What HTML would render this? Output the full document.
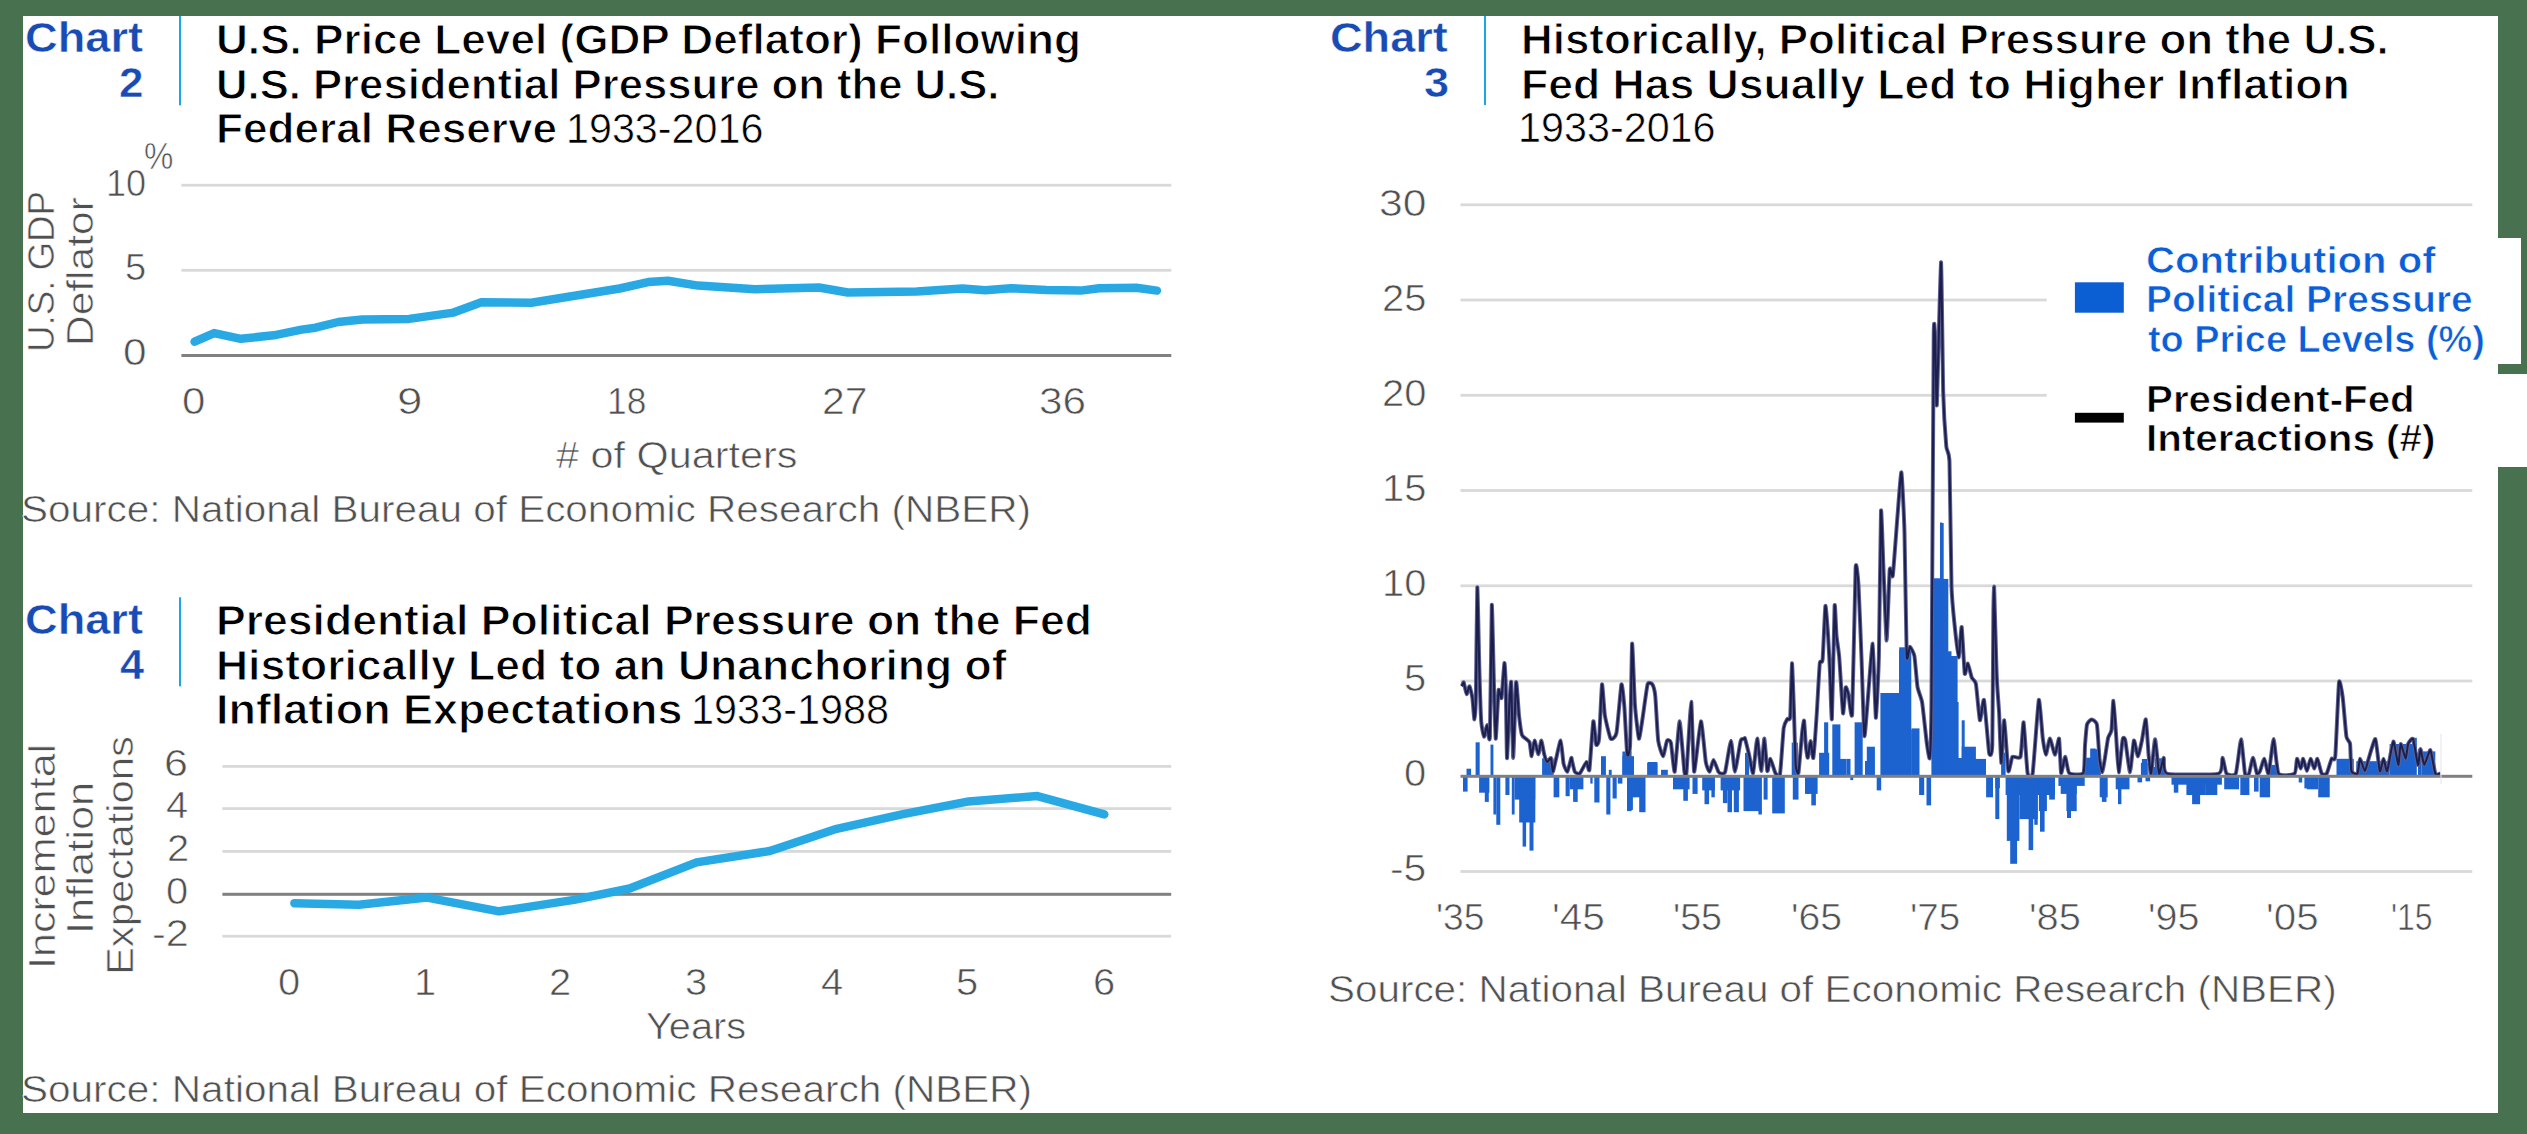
<!DOCTYPE html>
<html><head><meta charset="utf-8"><title>Charts</title>
<style>
html,body{margin:0;padding:0;}
body{width:2527px;height:1134px;position:relative;overflow:hidden;background:#48724f;font-family:"Liberation Sans",sans-serif;}
.panel{position:absolute;background:#fff;}
.t{position:absolute;white-space:pre;transform-origin:0 0;font-family:"Liberation Sans",sans-serif;}
svg{position:absolute;left:0;top:0;}
</style></head><body>
<div class="panel" style="left:23px;top:16px;width:2475px;height:1097px"></div>
<div class="panel" style="left:2040px;top:238px;width:480.5px;height:126px"></div>
<div class="panel" style="left:2040px;top:374px;width:487px;height:93px"></div>
<svg width="2527" height="1134" viewBox="0 0 2527 1134">
<rect x="179" y="16" width="2" height="89.3" fill="#1ba4ec"/>
<rect x="179" y="597.3" width="2" height="89.0" fill="#1ba4ec"/>
<rect x="1484" y="16" width="2" height="89" fill="#1ba4ec"/>
<rect x="181.4" y="183.79999999999998" width="989.9" height="2.8" fill="#d9d9d9"/>
<rect x="181.4" y="268.90000000000003" width="989.9" height="2.8" fill="#d9d9d9"/>
<rect x="181.4" y="354.0" width="989.9" height="3" fill="#808080"/>
<polyline points="194.6,341.7 214.2,333.1 240.8,338.8 273.7,335.3 301.6,329.6 315.5,327.7 338.3,322.0 362.3,319.5 409.2,318.9 453.5,312.6 481.4,302.2 531.3,302.7 619.6,288.5 648.1,282.1 668.0,280.7 698.0,285.6 755.0,289.2 819.0,287.5 847.8,292.5 916.9,291.6 962.5,288.5 985.3,290.3 1010.9,288.2 1046.5,289.9 1080.7,290.6 1099.2,288.2 1136.3,287.8 1156.9,290.6" fill="none" stroke="#29a9e3" stroke-width="8.5" stroke-linejoin="round" stroke-linecap="round"/>
<rect x="222.4" y="765.0" width="948.8000000000001" height="2.8" fill="#d9d9d9"/>
<rect x="222.4" y="807.2" width="948.8000000000001" height="2.8" fill="#d9d9d9"/>
<rect x="222.4" y="850.0" width="948.8000000000001" height="2.8" fill="#d9d9d9"/>
<rect x="222.4" y="934.8000000000001" width="948.8000000000001" height="2.8" fill="#d9d9d9"/>
<rect x="222.4" y="892.8" width="948.8000000000001" height="3" fill="#808080"/>
<polyline points="294.4,903.2 358.7,904.8 427.2,897.6 499.0,911.3 574.1,899.9 629.6,888.5 696.5,862.4 769.8,851.0 836.7,828.8 901.9,814.4 968.8,801.4 1037.4,796.1 1104.3,814.4" fill="none" stroke="#29a9e3" stroke-width="8.5" stroke-linejoin="round" stroke-linecap="round"/>
<rect x="1460.5" y="203.4" width="1011.8000000000002" height="2.8" fill="#d9d9d9"/>
<rect x="1460.5" y="489.1" width="1011.8000000000002" height="2.8" fill="#d9d9d9"/>
<rect x="1460.5" y="584.4" width="1011.8000000000002" height="2.8" fill="#d9d9d9"/>
<rect x="1460.5" y="679.6" width="1011.8000000000002" height="2.8" fill="#d9d9d9"/>
<rect x="1460.5" y="870.1" width="1011.8000000000002" height="2.8" fill="#d9d9d9"/>
<rect x="1460.5" y="298.6" width="586.2" height="2.8" fill="#d9d9d9"/>
<rect x="1460.5" y="393.9" width="586.2" height="2.8" fill="#d9d9d9"/>
<rect x="1463.0" y="776.3" width="4.6" height="15.3" fill="#1c63d0"/>
<rect x="1479.1" y="776.3" width="10.3" height="16.4" fill="#1c63d0"/>
<rect x="1484.8" y="776.3" width="4.0" height="25.6" fill="#1c63d0"/>
<rect x="1493.4" y="776.3" width="2.9" height="38.2" fill="#1c63d0"/>
<rect x="1496.3" y="776.3" width="4.0" height="48.5" fill="#1c63d0"/>
<rect x="1505.4" y="776.3" width="4.1" height="18.7" fill="#1c63d0"/>
<rect x="1511.8" y="776.3" width="2.8" height="38.2" fill="#1c63d0"/>
<rect x="1514.6" y="776.3" width="20.7" height="23.3" fill="#1c63d0"/>
<rect x="1519.2" y="776.3" width="16.1" height="46.2" fill="#1c63d0"/>
<rect x="1522.6" y="776.3" width="3.5" height="70.3" fill="#1c63d0"/>
<rect x="1529.5" y="776.3" width="4.0" height="74.3" fill="#1c63d0"/>
<rect x="1553.6" y="776.3" width="5.7" height="21.0" fill="#1c63d0"/>
<rect x="1565.6" y="776.3" width="4.1" height="19.9" fill="#1c63d0"/>
<rect x="1569.7" y="776.3" width="13.7" height="13.0" fill="#1c63d0"/>
<rect x="1573.1" y="776.3" width="4.6" height="25.6" fill="#1c63d0"/>
<rect x="1590.3" y="776.3" width="2.3" height="7.3" fill="#1c63d0"/>
<rect x="1594.3" y="776.3" width="5.2" height="26.2" fill="#1c63d0"/>
<rect x="1606.3" y="776.3" width="4.1" height="38.2" fill="#1c63d0"/>
<rect x="1612.6" y="776.3" width="4.1" height="22.2" fill="#1c63d0"/>
<rect x="1617.8" y="776.3" width="4.6" height="7.3" fill="#1c63d0"/>
<rect x="1627.0" y="776.3" width="4.6" height="34.8" fill="#1c63d0"/>
<rect x="1631.6" y="776.3" width="3.4" height="21.0" fill="#1c63d0"/>
<rect x="1475.6" y="742.3" width="4.1" height="34.0" fill="#1c63d0"/>
<rect x="1490.5" y="744.6" width="2.9" height="31.7" fill="#1c63d0"/>
<rect x="1466.5" y="768.7" width="4.6" height="7.6" fill="#1c63d0"/>
<rect x="1542.1" y="758.3" width="11.5" height="18.0" fill="#1c63d0"/>
<rect x="1601.8" y="757.2" width="3.4" height="19.1" fill="#1c63d0"/>
<rect x="1622.4" y="751.5" width="9.2" height="24.8" fill="#1c63d0"/>
<rect x="1601.0" y="756.2" width="4.9" height="20.1" fill="#1c63d0"/>
<rect x="1622.4" y="756.2" width="11.6" height="20.1" fill="#1c63d0"/>
<rect x="1647.6" y="762.0" width="9.7" height="14.3" fill="#1c63d0"/>
<rect x="1608.8" y="769.8" width="2.9" height="6.5" fill="#1c63d0"/>
<rect x="1630.0" y="776.3" width="2.9" height="33.6" fill="#1c63d0"/>
<rect x="1634.0" y="776.3" width="10.9" height="21.0" fill="#1c63d0"/>
<rect x="1639.2" y="776.3" width="6.3" height="35.9" fill="#1c63d0"/>
<rect x="1673.0" y="776.3" width="16.6" height="13.0" fill="#1c63d0"/>
<rect x="1683.3" y="776.3" width="4.6" height="24.5" fill="#1c63d0"/>
<rect x="1692.5" y="776.3" width="5.1" height="17.6" fill="#1c63d0"/>
<rect x="1702.2" y="776.3" width="12.6" height="14.1" fill="#1c63d0"/>
<rect x="1704.5" y="776.3" width="4.6" height="27.9" fill="#1c63d0"/>
<rect x="1711.4" y="776.3" width="3.4" height="21.0" fill="#1c63d0"/>
<rect x="1720.6" y="776.3" width="19.5" height="14.1" fill="#1c63d0"/>
<rect x="1722.9" y="776.3" width="4.6" height="26.8" fill="#1c63d0"/>
<rect x="1727.5" y="776.3" width="4.5" height="35.9" fill="#1c63d0"/>
<rect x="1733.8" y="776.3" width="5.1" height="35.9" fill="#1c63d0"/>
<rect x="1743.5" y="776.3" width="16.1" height="34.8" fill="#1c63d0"/>
<rect x="1758.4" y="776.3" width="3.5" height="38.2" fill="#1c63d0"/>
<rect x="1763.6" y="776.3" width="4.0" height="23.3" fill="#1c63d0"/>
<rect x="1772.2" y="776.3" width="12.6" height="37.1" fill="#1c63d0"/>
<rect x="1792.8" y="776.3" width="5.7" height="23.3" fill="#1c63d0"/>
<rect x="1806.6" y="776.3" width="3.4" height="17.6" fill="#1c63d0"/>
<rect x="1647.2" y="762.9" width="10.3" height="13.4" fill="#1c63d0"/>
<rect x="1661.0" y="769.8" width="6.8" height="6.5" fill="#1c63d0"/>
<rect x="1792.8" y="743.4" width="4.6" height="32.9" fill="#1c63d0"/>
<rect x="1745.0" y="752.8" width="4.1" height="23.5" fill="#1c63d0"/>
<rect x="1791.7" y="742.6" width="6.1" height="33.7" fill="#1c63d0"/>
<rect x="1819.1" y="752.8" width="10.1" height="23.5" fill="#1c63d0"/>
<rect x="1824.1" y="722.3" width="4.1" height="54.0" fill="#1c63d0"/>
<rect x="1832.3" y="724.4" width="8.1" height="51.9" fill="#1c63d0"/>
<rect x="1837.3" y="758.9" width="9.2" height="17.4" fill="#1c63d0"/>
<rect x="1846.5" y="758.9" width="4.0" height="17.4" fill="#1c63d0"/>
<rect x="1854.6" y="722.3" width="8.1" height="54.0" fill="#1c63d0"/>
<rect x="1866.8" y="746.7" width="8.1" height="29.6" fill="#1c63d0"/>
<rect x="1881.0" y="702.0" width="6.0" height="74.3" fill="#1c63d0"/>
<rect x="1887.0" y="693.9" width="12.2" height="82.4" fill="#1c63d0"/>
<rect x="1899.2" y="647.3" width="8.1" height="129.0" fill="#1c63d0"/>
<rect x="1911.4" y="728.4" width="8.1" height="47.9" fill="#1c63d0"/>
<rect x="1805.0" y="776.3" width="12.6" height="17.6" fill="#1c63d0"/>
<rect x="1811.3" y="776.3" width="4.6" height="29.1" fill="#1c63d0"/>
<rect x="1850.3" y="776.3" width="2.9" height="3.8" fill="#1c63d0"/>
<rect x="1876.7" y="776.3" width="4.5" height="14.1" fill="#1c63d0"/>
<rect x="1919.1" y="776.3" width="5.1" height="18.7" fill="#1c63d0"/>
<rect x="1926.5" y="776.3" width="4.6" height="29.1" fill="#1c63d0"/>
<rect x="1986.1" y="776.3" width="6.9" height="21.0" fill="#1c63d0"/>
<rect x="1995.3" y="776.3" width="4.6" height="11.9" fill="#1c63d0"/>
<rect x="1995.3" y="776.3" width="4.0" height="42.8" fill="#1c63d0"/>
<rect x="2005.6" y="776.3" width="49.3" height="18.7" fill="#1c63d0"/>
<rect x="2006.8" y="776.3" width="12.6" height="64.6" fill="#1c63d0"/>
<rect x="2010.2" y="776.3" width="6.9" height="87.5" fill="#1c63d0"/>
<rect x="2019.4" y="776.3" width="18.3" height="42.8" fill="#1c63d0"/>
<rect x="2028.6" y="776.3" width="4.6" height="73.8" fill="#1c63d0"/>
<rect x="2034.3" y="776.3" width="3.4" height="48.5" fill="#1c63d0"/>
<rect x="2038.9" y="776.3" width="8.0" height="34.8" fill="#1c63d0"/>
<rect x="2040.0" y="776.3" width="4.6" height="55.4" fill="#1c63d0"/>
<rect x="2049.2" y="776.3" width="5.7" height="23.3" fill="#1c63d0"/>
<rect x="2058.4" y="776.3" width="26.3" height="9.6" fill="#1c63d0"/>
<rect x="2060.7" y="776.3" width="16.0" height="17.6" fill="#1c63d0"/>
<rect x="2066.4" y="776.3" width="10.3" height="34.8" fill="#1c63d0"/>
<rect x="2067.0" y="776.3" width="4.0" height="41.7" fill="#1c63d0"/>
<rect x="2099.7" y="776.3" width="8.0" height="21.0" fill="#1c63d0"/>
<rect x="2101.9" y="776.3" width="4.6" height="25.6" fill="#1c63d0"/>
<rect x="2115.7" y="776.3" width="13.8" height="13.0" fill="#1c63d0"/>
<rect x="2118.0" y="776.3" width="3.4" height="27.9" fill="#1c63d0"/>
<rect x="2137.5" y="776.3" width="4.6" height="6.1" fill="#1c63d0"/>
<rect x="2145.5" y="776.3" width="4.6" height="5.0" fill="#1c63d0"/>
<rect x="2001.1" y="752.6" width="4.5" height="23.7" fill="#1c63d0"/>
<rect x="2083.6" y="760.6" width="11.5" height="15.7" fill="#1c63d0"/>
<rect x="2090.5" y="749.2" width="9.2" height="27.1" fill="#1c63d0"/>
<rect x="2140.9" y="762.9" width="6.9" height="13.4" fill="#1c63d0"/>
<rect x="2154.7" y="758.3" width="10.3" height="18.0" fill="#1c63d0"/>
<rect x="2085.0" y="757.7" width="15.9" height="18.6" fill="#1c63d0"/>
<rect x="2090.3" y="748.5" width="5.3" height="27.8" fill="#1c63d0"/>
<rect x="2141.9" y="759.0" width="5.3" height="17.3" fill="#1c63d0"/>
<rect x="2148.5" y="767.0" width="10.6" height="9.3" fill="#1c63d0"/>
<rect x="2171.5" y="776.3" width="50.4" height="8.4" fill="#1c63d0"/>
<rect x="2173.8" y="776.3" width="4.5" height="16.4" fill="#1c63d0"/>
<rect x="2186.4" y="776.3" width="19.5" height="18.7" fill="#1c63d0"/>
<rect x="2192.1" y="776.3" width="8.0" height="27.9" fill="#1c63d0"/>
<rect x="2205.9" y="776.3" width="11.4" height="18.7" fill="#1c63d0"/>
<rect x="2224.2" y="776.3" width="14.9" height="13.0" fill="#1c63d0"/>
<rect x="2240.3" y="776.3" width="9.1" height="18.7" fill="#1c63d0"/>
<rect x="2254.0" y="776.3" width="4.6" height="15.3" fill="#1c63d0"/>
<rect x="2259.7" y="776.3" width="10.4" height="21.0" fill="#1c63d0"/>
<rect x="2298.7" y="776.3" width="3.5" height="6.1" fill="#1c63d0"/>
<rect x="2306.8" y="776.3" width="11.4" height="13.0" fill="#1c63d0"/>
<rect x="2318.2" y="776.3" width="11.5" height="21.0" fill="#1c63d0"/>
<rect x="2336.5" y="758.8" width="17.3" height="17.5" fill="#1c63d0"/>
<rect x="2356.3" y="761.2" width="33.3" height="15.1" fill="#1c63d0"/>
<rect x="2389.6" y="744.0" width="26.0" height="32.3" fill="#1c63d0"/>
<rect x="2411.9" y="737.8" width="4.9" height="38.5" fill="#1c63d0"/>
<rect x="2418.0" y="748.9" width="3.7" height="27.4" fill="#1c63d0"/>
<rect x="2421.7" y="751.4" width="13.6" height="24.9" fill="#1c63d0"/>
<rect x="2269.9" y="764.9" width="8.6" height="11.4" fill="#1c63d0"/>
<rect x="2260.0" y="776.3" width="9.9" height="19.5" fill="#1c63d0"/>
<rect x="2299.5" y="776.3" width="2.5" height="5.9" fill="#1c63d0"/>
<rect x="2304.4" y="776.3" width="12.4" height="12.1" fill="#1c63d0"/>
<rect x="2319.3" y="776.3" width="9.8" height="19.5" fill="#1c63d0"/>
<rect x="1932.2" y="578.3" width="8.2" height="198.0" fill="#1c63d0"/>
<rect x="1940.4" y="600.6" width="4.0" height="175.7" fill="#1c63d0"/>
<rect x="1944.4" y="651.3" width="7.1" height="125.0" fill="#1c63d0"/>
<rect x="1951.5" y="758.9" width="34.5" height="17.4" fill="#1c63d0"/>
<rect x="1961.7" y="746.7" width="14.2" height="29.6" fill="#1c63d0"/>
<rect x="1954.6" y="702.0" width="4.0" height="74.3" fill="#1c63d0"/>
<rect x="1961.7" y="720.3" width="3.0" height="56.0" fill="#1c63d0"/>
<rect x="1915.0" y="736.5" width="4.0" height="39.8" fill="#1c63d0"/>
<rect x="2083.4" y="760.9" width="11.6" height="15.4" fill="#1c63d0"/>
<rect x="1940.0" y="522.5" width="2.0" height="253.8" fill="#1c63d0"/>
<rect x="1865.0" y="761.0" width="9.3" height="15.3" fill="#1c63d0"/>
<rect x="1880.4" y="693.0" width="18.6" height="83.3" fill="#1c63d0"/>
<rect x="1899.0" y="649.9" width="12.3" height="126.4" fill="#1c63d0"/>
<rect x="1911.3" y="730.0" width="7.7" height="46.3" fill="#1c63d0"/>
<rect x="1931.4" y="578.9" width="16.9" height="197.4" fill="#1c63d0"/>
<rect x="1940.6" y="523.0" width="3.1" height="253.3" fill="#1c63d0"/>
<rect x="1948.3" y="656.0" width="9.3" height="120.3" fill="#1c63d0"/>
<rect x="1957.6" y="758.0" width="7.4" height="18.3" fill="#1c63d0"/>
<path d="M1461.8,686.3 C1462.0,686.0 1463.3,681.8 1463.7,682.4 C1464.1,683.0 1466.1,693.8 1466.6,694.1 C1467.1,694.4 1469.0,686.0 1469.5,686.3 C1470.0,686.6 1472.0,695.2 1472.4,698.0 C1472.8,700.8 1474.1,719.5 1474.4,719.3 C1474.7,719.1 1475.7,707.0 1475.9,696.0 C1476.1,685.0 1477.0,590.1 1477.3,587.4 C1477.6,584.7 1478.9,652.0 1479.2,663.1 C1479.5,674.2 1480.8,715.1 1481.2,721.2 C1481.6,727.3 1483.6,736.4 1484.1,736.7 C1484.6,737.0 1486.5,725.1 1487.0,725.1 C1487.5,725.1 1489.5,746.7 1489.9,736.7 C1490.3,726.7 1491.5,609.7 1491.8,604.9 C1492.1,600.1 1493.5,667.5 1493.8,678.6 C1494.1,689.8 1495.3,737.7 1495.7,738.7 C1496.1,739.7 1498.1,693.6 1498.6,690.2 C1499.1,686.8 1501.0,700.3 1501.5,698.0 C1502.0,695.7 1504.0,664.1 1504.4,663.1 C1504.8,662.1 1505.6,678.4 1505.8,686.3 C1506.0,694.2 1506.7,756.5 1507.0,758.1 C1507.3,759.7 1509.0,712.0 1509.3,705.7 C1509.6,699.4 1510.9,678.0 1511.2,682.4 C1511.5,686.8 1512.8,758.1 1513.2,758.1 C1513.6,758.1 1515.6,686.0 1516.1,682.4 C1516.6,678.8 1518.5,711.0 1519.0,715.4 C1519.5,719.8 1521.3,732.9 1521.9,734.8 C1522.5,736.7 1525.2,738.1 1525.8,738.7 C1526.4,739.3 1529.1,741.0 1529.6,742.5 C1530.1,744.0 1531.2,756.3 1531.6,756.1 C1532.0,755.9 1533.9,740.8 1534.5,740.6 C1535.1,740.4 1537.8,754.2 1538.4,754.2 C1539.0,754.2 1540.8,740.6 1541.3,740.6 C1541.8,740.6 1543.7,752.4 1544.2,754.2 C1544.7,756.0 1546.5,761.6 1547.1,761.9 C1547.7,762.2 1550.5,757.3 1551.0,758.1 C1551.5,758.9 1552.5,771.4 1552.9,771.6 C1553.3,771.8 1555.1,762.6 1555.8,760.0 C1556.5,757.4 1560.0,740.3 1560.7,740.6 C1561.4,740.9 1563.0,761.3 1563.6,763.9 C1564.2,766.5 1566.8,772.1 1567.4,771.6 C1568.0,771.1 1570.9,759.1 1571.3,758.1 C1571.7,757.1 1571.6,759.0 1571.9,760.1 C1572.2,761.2 1574.1,770.6 1574.8,771.7 C1575.5,772.8 1578.7,774.4 1579.7,773.6 C1580.7,772.8 1585.7,762.3 1586.5,762.0 C1587.3,761.7 1588.8,773.2 1589.4,769.8 C1590.0,766.4 1592.7,723.4 1593.3,721.3 C1593.9,719.2 1595.7,743.1 1596.2,744.6 C1596.7,746.1 1598.6,743.7 1599.1,738.7 C1599.6,733.7 1601.5,686.3 1602.0,684.4 C1602.5,682.5 1604.2,711.0 1604.9,715.5 C1605.6,720.0 1609.7,737.2 1610.7,738.7 C1611.7,740.2 1615.6,737.4 1616.5,732.9 C1617.4,728.4 1620.8,686.7 1621.4,684.4 C1622.1,682.1 1623.8,700.0 1624.3,705.8 C1624.8,711.6 1626.7,751.1 1627.2,754.3 C1627.7,757.5 1629.7,753.8 1630.1,744.6 C1630.5,735.4 1631.7,646.9 1632.1,643.7 C1632.5,640.5 1634.4,697.9 1635.0,705.8 C1635.6,713.7 1638.3,737.7 1638.9,738.7 C1639.5,739.7 1642.0,721.9 1642.7,717.4 C1643.4,712.9 1646.8,687.1 1647.6,684.4 C1648.4,681.6 1651.8,683.4 1652.4,684.4 C1653.0,685.4 1654.8,691.4 1655.3,696.1 C1655.8,700.8 1657.5,735.7 1658.2,740.7 C1658.9,745.7 1662.4,756.2 1663.1,756.2 C1663.8,756.2 1666.3,741.8 1667.0,740.7 C1667.7,739.6 1670.3,740.0 1670.9,742.6 C1671.5,745.2 1674.0,773.5 1674.7,771.7 C1675.4,769.9 1678.8,721.3 1679.6,721.3 C1680.4,721.3 1683.8,767.3 1684.4,771.7 C1685.0,776.1 1685.8,779.4 1686.4,773.6 C1687.0,767.8 1690.6,702.1 1691.2,701.9 C1691.8,701.7 1693.3,770.1 1694.1,771.7 C1694.9,773.3 1699.9,722.1 1700.9,721.3 C1701.9,720.5 1705.1,757.8 1705.8,762.0 C1706.5,766.2 1709.0,771.9 1709.6,771.7 C1710.2,771.5 1712.8,760.1 1713.5,760.1 C1714.2,760.1 1717.8,770.6 1718.4,771.7 C1719.1,772.8 1720.7,773.6 1721.3,773.6 C1721.9,773.6 1724.4,774.4 1725.2,771.7 C1726.0,769.0 1730.2,740.7 1731.0,740.7 C1731.8,740.7 1734.1,771.7 1734.9,771.7 C1735.7,771.7 1739.9,743.5 1740.7,740.7 C1741.5,738.0 1744.2,738.9 1744.6,738.7 C1745.0,738.5 1744.6,737.3 1745.0,738.6 C1745.4,739.9 1748.4,751.9 1749.1,754.8 C1749.8,757.7 1752.4,774.5 1753.1,773.1 C1753.8,771.8 1756.5,738.8 1757.2,738.6 C1757.9,738.4 1760.6,771.0 1761.2,771.0 C1761.8,771.0 1763.8,738.6 1764.3,738.6 C1764.8,738.6 1766.8,769.3 1767.3,771.0 C1767.8,772.7 1769.7,758.7 1770.4,758.9 C1771.1,759.1 1774.6,771.8 1775.4,773.1 C1776.2,774.4 1779.3,778.1 1780.0,774.4 C1780.7,770.6 1783.1,732.7 1783.7,728.1 C1784.3,723.5 1786.9,719.8 1787.4,718.9 C1787.9,718.0 1789.8,721.6 1790.2,717.0 C1790.6,712.4 1791.7,663.9 1792.0,663.3 C1792.3,662.7 1793.6,701.1 1793.9,709.6 C1794.2,718.1 1795.3,760.0 1795.7,765.2 C1796.1,770.5 1798.0,775.4 1798.5,772.6 C1799.0,769.8 1801.7,736.2 1802.2,731.9 C1802.7,727.6 1803.8,719.5 1804.1,720.7 C1804.4,721.9 1805.6,743.6 1805.9,746.7 C1806.2,749.8 1807.4,758.3 1807.8,757.8 C1808.2,757.3 1810.1,741.1 1810.6,741.1 C1811.1,741.1 1812.8,760.4 1813.3,757.8 C1813.8,755.2 1816.5,717.5 1817.0,709.6 C1817.5,701.7 1819.3,667.5 1819.8,663.3 C1820.3,659.1 1822.1,664.4 1822.6,659.6 C1823.1,654.8 1824.9,607.9 1825.4,605.9 C1825.9,603.9 1827.7,630.0 1828.1,635.6 C1828.5,641.2 1829.7,665.7 1830.0,672.6 C1830.3,679.5 1831.5,724.5 1831.9,718.9 C1832.3,713.3 1834.2,612.8 1834.6,605.9 C1835.0,599.0 1836.1,631.3 1836.5,635.6 C1836.9,639.9 1838.8,651.3 1839.3,657.8 C1839.8,664.3 1842.5,710.8 1843.0,713.3 C1843.5,715.8 1845.2,688.9 1845.7,687.4 C1846.2,685.9 1848.0,692.6 1848.5,694.8 C1849.0,697.0 1851.6,723.9 1852.2,713.3 C1852.8,702.7 1855.1,578.8 1855.6,568.1 C1856.1,557.4 1858.0,577.5 1858.5,585.0 C1859.0,592.5 1861.0,645.2 1861.5,657.8 C1862.0,670.3 1863.8,731.3 1864.3,735.6 C1864.8,739.9 1866.3,717.3 1867.0,709.6 C1867.7,701.9 1872.0,643.0 1872.7,643.7 C1873.4,644.4 1875.3,716.8 1875.8,717.8 C1876.3,718.8 1878.5,673.2 1878.9,656.0 C1879.3,638.8 1880.6,518.2 1881.0,511.0 C1881.4,503.8 1883.0,558.8 1883.5,569.6 C1884.0,580.4 1886.1,640.6 1886.6,640.6 C1887.1,640.6 1889.2,575.0 1889.7,569.6 C1890.2,564.2 1892.2,580.2 1892.8,575.8 C1893.4,571.4 1896.7,525.8 1897.4,517.2 C1898.1,508.6 1900.8,471.1 1901.4,472.4 C1902.0,473.7 1904.1,517.3 1904.5,532.6 C1904.9,547.9 1906.3,646.5 1906.7,656.0 C1907.1,665.5 1909.2,646.8 1909.8,646.8 C1910.4,646.8 1913.8,652.7 1914.4,656.0 C1915.0,659.3 1916.9,683.0 1917.5,686.9 C1918.1,690.8 1921.3,697.7 1922.1,702.3 C1922.9,706.9 1926.1,737.9 1926.7,742.5 C1927.3,747.1 1929.4,761.4 1929.8,757.9 C1930.2,754.4 1931.2,735.0 1931.5,700.0 C1931.8,665.0 1933.4,368.5 1933.7,338.4 C1934.0,308.3 1934.9,332.8 1935.2,338.4 C1935.5,343.9 1936.3,411.4 1936.8,405.0 C1937.3,398.6 1940.5,263.3 1941.0,262.2 C1941.5,261.1 1942.8,376.7 1943.2,392.0 C1943.6,407.3 1945.8,440.5 1946.3,446.3 C1946.8,452.1 1949.1,450.3 1949.5,462.0 C1949.9,473.7 1951.1,572.8 1951.5,586.4 C1951.9,600.0 1954.0,619.1 1954.6,625.0 C1955.2,630.9 1958.0,657.2 1958.6,657.4 C1959.2,657.6 1961.2,625.6 1961.7,627.0 C1962.2,628.4 1964.2,670.6 1964.7,673.6 C1965.2,676.6 1967.2,663.2 1967.8,663.5 C1968.4,663.8 1971.1,676.0 1971.8,677.7 C1972.5,679.4 1975.2,680.2 1975.9,683.8 C1976.6,687.3 1979.2,718.9 1979.9,720.3 C1980.6,721.6 1983.2,697.3 1984.0,700.0 C1984.8,702.7 1988.4,749.0 1989.1,752.8 C1989.8,756.5 1991.9,756.9 1992.3,745.0 C1992.7,733.1 1993.2,623.2 1993.4,610.0 C1993.6,596.8 1994.0,586.4 1994.1,586.4 C1994.2,586.4 1994.6,603.9 1994.8,610.0 C1995.0,616.1 1996.0,653.3 1996.2,660.0 C1996.4,666.7 1997.2,685.5 1997.5,690.0 C1997.8,694.5 1998.9,708.1 1999.2,714.2 C1999.5,720.3 2000.8,762.5 2001.2,763.0 C2001.6,763.5 2003.7,719.6 2004.3,720.3 C2004.9,721.0 2007.6,768.0 2008.3,771.0 C2009.0,774.0 2011.4,758.0 2012.4,756.8 C2013.4,755.6 2019.6,759.7 2020.5,756.8 C2021.4,753.9 2023.0,720.9 2023.6,722.3 C2024.2,723.7 2026.8,768.9 2027.6,773.1 C2028.4,777.3 2031.8,779.2 2032.7,773.1 C2033.6,767.0 2038.0,702.9 2038.8,700.0 C2039.6,697.1 2042.2,734.0 2042.8,738.6 C2043.4,743.2 2045.3,754.8 2045.9,754.8 C2046.5,754.8 2049.1,738.6 2049.9,738.6 C2050.7,738.6 2054.2,754.8 2055.0,754.8 C2055.8,754.8 2058.6,737.1 2059.1,738.6 C2059.6,740.1 2060.6,771.6 2061.1,773.1 C2061.6,774.6 2064.5,756.8 2065.2,756.8 C2065.9,756.8 2067.7,771.7 2069.2,773.1 C2070.7,774.5 2082.1,775.4 2083.4,773.1 C2084.7,770.8 2084.7,749.8 2085.0,745.8 C2085.3,741.8 2086.4,726.8 2087.0,724.6 C2087.6,722.4 2090.8,719.4 2091.6,719.4 C2092.4,719.4 2096.2,721.3 2096.9,724.6 C2097.6,727.9 2099.1,755.0 2099.5,759.0 C2099.9,763.0 2101.8,772.3 2102.2,772.3 C2102.6,772.3 2104.3,761.9 2104.8,759.0 C2105.3,756.1 2107.5,740.3 2108.1,737.9 C2108.7,735.5 2111.1,733.0 2111.5,729.9 C2111.9,726.8 2113.0,700.4 2113.4,700.8 C2113.8,701.2 2115.7,729.2 2116.1,735.2 C2116.5,741.2 2118.1,772.0 2118.7,772.3 C2119.2,772.6 2122.1,741.9 2122.7,739.2 C2123.2,736.6 2124.7,737.7 2125.3,740.5 C2125.9,743.3 2129.3,772.3 2130.0,772.3 C2130.7,772.3 2133.2,741.8 2133.9,740.5 C2134.6,739.2 2137.2,756.4 2137.9,756.4 C2138.6,756.4 2141.2,743.6 2141.9,740.5 C2142.6,737.4 2145.2,718.3 2145.8,719.4 C2146.4,720.5 2148.1,749.2 2148.5,753.7 C2148.9,758.2 2150.5,774.8 2151.1,773.6 C2151.7,772.4 2154.4,739.2 2155.1,739.2 C2155.8,739.2 2158.4,772.1 2159.1,773.6 C2159.8,775.1 2163.0,757.7 2163.7,757.7 C2164.4,757.7 2162.4,772.3 2167.0,773.6 C2171.6,774.9 2214.0,774.9 2218.6,773.6 C2223.2,772.3 2221.8,757.7 2222.5,757.7 C2223.2,757.7 2225.4,772.3 2226.5,773.6 C2227.6,774.9 2234.6,776.5 2235.8,773.6 C2237.0,770.7 2240.3,739.2 2241.1,739.2 C2241.9,739.2 2244.3,770.7 2245.0,773.6 C2245.7,776.5 2248.3,774.9 2249.0,773.6 C2249.7,772.3 2252.3,757.7 2253.0,757.7 C2253.7,757.7 2256.3,772.5 2256.9,773.6 C2257.5,774.7 2259.4,772.3 2260.0,771.1 C2260.6,769.9 2263.6,758.6 2264.3,758.8 C2265.0,759.0 2267.8,775.2 2268.6,773.6 C2269.4,772.0 2272.8,739.0 2273.6,739.0 C2274.4,739.0 2276.8,770.7 2278.5,773.6 C2280.2,776.5 2293.1,774.8 2294.6,773.6 C2296.1,772.4 2296.5,759.2 2297.0,758.8 C2297.5,758.4 2300.2,768.6 2300.7,768.6 C2301.2,768.6 2302.7,758.6 2303.2,758.8 C2303.7,759.0 2306.3,771.1 2306.9,771.1 C2307.5,771.1 2310.0,759.0 2310.6,758.8 C2311.2,758.6 2313.7,768.6 2314.3,768.6 C2314.9,768.6 2316.8,758.4 2317.4,758.8 C2318.0,759.2 2320.9,772.4 2321.7,773.6 C2322.5,774.8 2325.9,774.8 2326.7,773.6 C2327.5,772.4 2330.9,760.2 2331.6,758.8 C2332.3,757.4 2334.7,762.7 2335.3,756.3 C2335.9,749.9 2338.4,687.1 2339.0,682.2 C2339.6,677.3 2342.1,692.5 2342.7,697.0 C2343.3,701.5 2345.8,732.6 2346.4,736.5 C2347.0,740.4 2349.7,741.1 2350.1,744.0 C2350.5,746.9 2350.8,768.6 2351.4,771.1 C2352.0,773.6 2356.8,774.6 2357.5,773.6 C2358.2,772.6 2359.4,759.0 2360.0,758.8 C2360.6,758.6 2364.2,771.1 2364.9,771.1 C2365.6,771.1 2367.7,761.5 2368.6,758.8 C2369.5,756.1 2374.5,738.0 2375.4,739.0 C2376.3,740.0 2379.1,769.5 2379.8,771.1 C2380.5,772.8 2382.9,758.8 2383.5,758.8 C2384.1,758.8 2386.4,772.5 2387.2,771.1 C2388.0,769.7 2392.4,742.0 2393.3,741.5 C2394.2,741.0 2397.7,764.7 2398.3,764.9 C2398.9,765.1 2400.1,744.5 2400.7,744.0 C2401.3,743.5 2405.1,758.8 2405.7,758.8 C2406.3,758.8 2407.5,745.6 2408.1,744.0 C2408.7,742.4 2412.3,737.3 2413.1,739.0 C2413.9,740.7 2417.4,764.1 2418.0,764.9 C2418.6,765.7 2420.0,748.9 2420.5,748.9 C2421.0,748.9 2423.4,764.8 2424.2,764.9 C2425.0,765.0 2429.5,749.4 2430.4,750.1 C2431.3,750.8 2434.5,771.6 2435.3,773.6 C2436.1,775.6 2439.8,773.6 2440.2,773.6" fill="none" stroke="#5e6090" stroke-width="4.0" stroke-linejoin="round"/>
<path d="M1461.8,686.3 C1462.0,686.0 1463.3,681.8 1463.7,682.4 C1464.1,683.0 1466.1,693.8 1466.6,694.1 C1467.1,694.4 1469.0,686.0 1469.5,686.3 C1470.0,686.6 1472.0,695.2 1472.4,698.0 C1472.8,700.8 1474.1,719.5 1474.4,719.3 C1474.7,719.1 1475.7,707.0 1475.9,696.0 C1476.1,685.0 1477.0,590.1 1477.3,587.4 C1477.6,584.7 1478.9,652.0 1479.2,663.1 C1479.5,674.2 1480.8,715.1 1481.2,721.2 C1481.6,727.3 1483.6,736.4 1484.1,736.7 C1484.6,737.0 1486.5,725.1 1487.0,725.1 C1487.5,725.1 1489.5,746.7 1489.9,736.7 C1490.3,726.7 1491.5,609.7 1491.8,604.9 C1492.1,600.1 1493.5,667.5 1493.8,678.6 C1494.1,689.8 1495.3,737.7 1495.7,738.7 C1496.1,739.7 1498.1,693.6 1498.6,690.2 C1499.1,686.8 1501.0,700.3 1501.5,698.0 C1502.0,695.7 1504.0,664.1 1504.4,663.1 C1504.8,662.1 1505.6,678.4 1505.8,686.3 C1506.0,694.2 1506.7,756.5 1507.0,758.1 C1507.3,759.7 1509.0,712.0 1509.3,705.7 C1509.6,699.4 1510.9,678.0 1511.2,682.4 C1511.5,686.8 1512.8,758.1 1513.2,758.1 C1513.6,758.1 1515.6,686.0 1516.1,682.4 C1516.6,678.8 1518.5,711.0 1519.0,715.4 C1519.5,719.8 1521.3,732.9 1521.9,734.8 C1522.5,736.7 1525.2,738.1 1525.8,738.7 C1526.4,739.3 1529.1,741.0 1529.6,742.5 C1530.1,744.0 1531.2,756.3 1531.6,756.1 C1532.0,755.9 1533.9,740.8 1534.5,740.6 C1535.1,740.4 1537.8,754.2 1538.4,754.2 C1539.0,754.2 1540.8,740.6 1541.3,740.6 C1541.8,740.6 1543.7,752.4 1544.2,754.2 C1544.7,756.0 1546.5,761.6 1547.1,761.9 C1547.7,762.2 1550.5,757.3 1551.0,758.1 C1551.5,758.9 1552.5,771.4 1552.9,771.6 C1553.3,771.8 1555.1,762.6 1555.8,760.0 C1556.5,757.4 1560.0,740.3 1560.7,740.6 C1561.4,740.9 1563.0,761.3 1563.6,763.9 C1564.2,766.5 1566.8,772.1 1567.4,771.6 C1568.0,771.1 1570.9,759.1 1571.3,758.1 C1571.7,757.1 1571.6,759.0 1571.9,760.1 C1572.2,761.2 1574.1,770.6 1574.8,771.7 C1575.5,772.8 1578.7,774.4 1579.7,773.6 C1580.7,772.8 1585.7,762.3 1586.5,762.0 C1587.3,761.7 1588.8,773.2 1589.4,769.8 C1590.0,766.4 1592.7,723.4 1593.3,721.3 C1593.9,719.2 1595.7,743.1 1596.2,744.6 C1596.7,746.1 1598.6,743.7 1599.1,738.7 C1599.6,733.7 1601.5,686.3 1602.0,684.4 C1602.5,682.5 1604.2,711.0 1604.9,715.5 C1605.6,720.0 1609.7,737.2 1610.7,738.7 C1611.7,740.2 1615.6,737.4 1616.5,732.9 C1617.4,728.4 1620.8,686.7 1621.4,684.4 C1622.1,682.1 1623.8,700.0 1624.3,705.8 C1624.8,711.6 1626.7,751.1 1627.2,754.3 C1627.7,757.5 1629.7,753.8 1630.1,744.6 C1630.5,735.4 1631.7,646.9 1632.1,643.7 C1632.5,640.5 1634.4,697.9 1635.0,705.8 C1635.6,713.7 1638.3,737.7 1638.9,738.7 C1639.5,739.7 1642.0,721.9 1642.7,717.4 C1643.4,712.9 1646.8,687.1 1647.6,684.4 C1648.4,681.6 1651.8,683.4 1652.4,684.4 C1653.0,685.4 1654.8,691.4 1655.3,696.1 C1655.8,700.8 1657.5,735.7 1658.2,740.7 C1658.9,745.7 1662.4,756.2 1663.1,756.2 C1663.8,756.2 1666.3,741.8 1667.0,740.7 C1667.7,739.6 1670.3,740.0 1670.9,742.6 C1671.5,745.2 1674.0,773.5 1674.7,771.7 C1675.4,769.9 1678.8,721.3 1679.6,721.3 C1680.4,721.3 1683.8,767.3 1684.4,771.7 C1685.0,776.1 1685.8,779.4 1686.4,773.6 C1687.0,767.8 1690.6,702.1 1691.2,701.9 C1691.8,701.7 1693.3,770.1 1694.1,771.7 C1694.9,773.3 1699.9,722.1 1700.9,721.3 C1701.9,720.5 1705.1,757.8 1705.8,762.0 C1706.5,766.2 1709.0,771.9 1709.6,771.7 C1710.2,771.5 1712.8,760.1 1713.5,760.1 C1714.2,760.1 1717.8,770.6 1718.4,771.7 C1719.1,772.8 1720.7,773.6 1721.3,773.6 C1721.9,773.6 1724.4,774.4 1725.2,771.7 C1726.0,769.0 1730.2,740.7 1731.0,740.7 C1731.8,740.7 1734.1,771.7 1734.9,771.7 C1735.7,771.7 1739.9,743.5 1740.7,740.7 C1741.5,738.0 1744.2,738.9 1744.6,738.7 C1745.0,738.5 1744.6,737.3 1745.0,738.6 C1745.4,739.9 1748.4,751.9 1749.1,754.8 C1749.8,757.7 1752.4,774.5 1753.1,773.1 C1753.8,771.8 1756.5,738.8 1757.2,738.6 C1757.9,738.4 1760.6,771.0 1761.2,771.0 C1761.8,771.0 1763.8,738.6 1764.3,738.6 C1764.8,738.6 1766.8,769.3 1767.3,771.0 C1767.8,772.7 1769.7,758.7 1770.4,758.9 C1771.1,759.1 1774.6,771.8 1775.4,773.1 C1776.2,774.4 1779.3,778.1 1780.0,774.4 C1780.7,770.6 1783.1,732.7 1783.7,728.1 C1784.3,723.5 1786.9,719.8 1787.4,718.9 C1787.9,718.0 1789.8,721.6 1790.2,717.0 C1790.6,712.4 1791.7,663.9 1792.0,663.3 C1792.3,662.7 1793.6,701.1 1793.9,709.6 C1794.2,718.1 1795.3,760.0 1795.7,765.2 C1796.1,770.5 1798.0,775.4 1798.5,772.6 C1799.0,769.8 1801.7,736.2 1802.2,731.9 C1802.7,727.6 1803.8,719.5 1804.1,720.7 C1804.4,721.9 1805.6,743.6 1805.9,746.7 C1806.2,749.8 1807.4,758.3 1807.8,757.8 C1808.2,757.3 1810.1,741.1 1810.6,741.1 C1811.1,741.1 1812.8,760.4 1813.3,757.8 C1813.8,755.2 1816.5,717.5 1817.0,709.6 C1817.5,701.7 1819.3,667.5 1819.8,663.3 C1820.3,659.1 1822.1,664.4 1822.6,659.6 C1823.1,654.8 1824.9,607.9 1825.4,605.9 C1825.9,603.9 1827.7,630.0 1828.1,635.6 C1828.5,641.2 1829.7,665.7 1830.0,672.6 C1830.3,679.5 1831.5,724.5 1831.9,718.9 C1832.3,713.3 1834.2,612.8 1834.6,605.9 C1835.0,599.0 1836.1,631.3 1836.5,635.6 C1836.9,639.9 1838.8,651.3 1839.3,657.8 C1839.8,664.3 1842.5,710.8 1843.0,713.3 C1843.5,715.8 1845.2,688.9 1845.7,687.4 C1846.2,685.9 1848.0,692.6 1848.5,694.8 C1849.0,697.0 1851.6,723.9 1852.2,713.3 C1852.8,702.7 1855.1,578.8 1855.6,568.1 C1856.1,557.4 1858.0,577.5 1858.5,585.0 C1859.0,592.5 1861.0,645.2 1861.5,657.8 C1862.0,670.3 1863.8,731.3 1864.3,735.6 C1864.8,739.9 1866.3,717.3 1867.0,709.6 C1867.7,701.9 1872.0,643.0 1872.7,643.7 C1873.4,644.4 1875.3,716.8 1875.8,717.8 C1876.3,718.8 1878.5,673.2 1878.9,656.0 C1879.3,638.8 1880.6,518.2 1881.0,511.0 C1881.4,503.8 1883.0,558.8 1883.5,569.6 C1884.0,580.4 1886.1,640.6 1886.6,640.6 C1887.1,640.6 1889.2,575.0 1889.7,569.6 C1890.2,564.2 1892.2,580.2 1892.8,575.8 C1893.4,571.4 1896.7,525.8 1897.4,517.2 C1898.1,508.6 1900.8,471.1 1901.4,472.4 C1902.0,473.7 1904.1,517.3 1904.5,532.6 C1904.9,547.9 1906.3,646.5 1906.7,656.0 C1907.1,665.5 1909.2,646.8 1909.8,646.8 C1910.4,646.8 1913.8,652.7 1914.4,656.0 C1915.0,659.3 1916.9,683.0 1917.5,686.9 C1918.1,690.8 1921.3,697.7 1922.1,702.3 C1922.9,706.9 1926.1,737.9 1926.7,742.5 C1927.3,747.1 1929.4,761.4 1929.8,757.9 C1930.2,754.4 1931.2,735.0 1931.5,700.0 C1931.8,665.0 1933.4,368.5 1933.7,338.4 C1934.0,308.3 1934.9,332.8 1935.2,338.4 C1935.5,343.9 1936.3,411.4 1936.8,405.0 C1937.3,398.6 1940.5,263.3 1941.0,262.2 C1941.5,261.1 1942.8,376.7 1943.2,392.0 C1943.6,407.3 1945.8,440.5 1946.3,446.3 C1946.8,452.1 1949.1,450.3 1949.5,462.0 C1949.9,473.7 1951.1,572.8 1951.5,586.4 C1951.9,600.0 1954.0,619.1 1954.6,625.0 C1955.2,630.9 1958.0,657.2 1958.6,657.4 C1959.2,657.6 1961.2,625.6 1961.7,627.0 C1962.2,628.4 1964.2,670.6 1964.7,673.6 C1965.2,676.6 1967.2,663.2 1967.8,663.5 C1968.4,663.8 1971.1,676.0 1971.8,677.7 C1972.5,679.4 1975.2,680.2 1975.9,683.8 C1976.6,687.3 1979.2,718.9 1979.9,720.3 C1980.6,721.6 1983.2,697.3 1984.0,700.0 C1984.8,702.7 1988.4,749.0 1989.1,752.8 C1989.8,756.5 1991.9,756.9 1992.3,745.0 C1992.7,733.1 1993.2,623.2 1993.4,610.0 C1993.6,596.8 1994.0,586.4 1994.1,586.4 C1994.2,586.4 1994.6,603.9 1994.8,610.0 C1995.0,616.1 1996.0,653.3 1996.2,660.0 C1996.4,666.7 1997.2,685.5 1997.5,690.0 C1997.8,694.5 1998.9,708.1 1999.2,714.2 C1999.5,720.3 2000.8,762.5 2001.2,763.0 C2001.6,763.5 2003.7,719.6 2004.3,720.3 C2004.9,721.0 2007.6,768.0 2008.3,771.0 C2009.0,774.0 2011.4,758.0 2012.4,756.8 C2013.4,755.6 2019.6,759.7 2020.5,756.8 C2021.4,753.9 2023.0,720.9 2023.6,722.3 C2024.2,723.7 2026.8,768.9 2027.6,773.1 C2028.4,777.3 2031.8,779.2 2032.7,773.1 C2033.6,767.0 2038.0,702.9 2038.8,700.0 C2039.6,697.1 2042.2,734.0 2042.8,738.6 C2043.4,743.2 2045.3,754.8 2045.9,754.8 C2046.5,754.8 2049.1,738.6 2049.9,738.6 C2050.7,738.6 2054.2,754.8 2055.0,754.8 C2055.8,754.8 2058.6,737.1 2059.1,738.6 C2059.6,740.1 2060.6,771.6 2061.1,773.1 C2061.6,774.6 2064.5,756.8 2065.2,756.8 C2065.9,756.8 2067.7,771.7 2069.2,773.1 C2070.7,774.5 2082.1,775.4 2083.4,773.1 C2084.7,770.8 2084.7,749.8 2085.0,745.8 C2085.3,741.8 2086.4,726.8 2087.0,724.6 C2087.6,722.4 2090.8,719.4 2091.6,719.4 C2092.4,719.4 2096.2,721.3 2096.9,724.6 C2097.6,727.9 2099.1,755.0 2099.5,759.0 C2099.9,763.0 2101.8,772.3 2102.2,772.3 C2102.6,772.3 2104.3,761.9 2104.8,759.0 C2105.3,756.1 2107.5,740.3 2108.1,737.9 C2108.7,735.5 2111.1,733.0 2111.5,729.9 C2111.9,726.8 2113.0,700.4 2113.4,700.8 C2113.8,701.2 2115.7,729.2 2116.1,735.2 C2116.5,741.2 2118.1,772.0 2118.7,772.3 C2119.2,772.6 2122.1,741.9 2122.7,739.2 C2123.2,736.6 2124.7,737.7 2125.3,740.5 C2125.9,743.3 2129.3,772.3 2130.0,772.3 C2130.7,772.3 2133.2,741.8 2133.9,740.5 C2134.6,739.2 2137.2,756.4 2137.9,756.4 C2138.6,756.4 2141.2,743.6 2141.9,740.5 C2142.6,737.4 2145.2,718.3 2145.8,719.4 C2146.4,720.5 2148.1,749.2 2148.5,753.7 C2148.9,758.2 2150.5,774.8 2151.1,773.6 C2151.7,772.4 2154.4,739.2 2155.1,739.2 C2155.8,739.2 2158.4,772.1 2159.1,773.6 C2159.8,775.1 2163.0,757.7 2163.7,757.7 C2164.4,757.7 2162.4,772.3 2167.0,773.6 C2171.6,774.9 2214.0,774.9 2218.6,773.6 C2223.2,772.3 2221.8,757.7 2222.5,757.7 C2223.2,757.7 2225.4,772.3 2226.5,773.6 C2227.6,774.9 2234.6,776.5 2235.8,773.6 C2237.0,770.7 2240.3,739.2 2241.1,739.2 C2241.9,739.2 2244.3,770.7 2245.0,773.6 C2245.7,776.5 2248.3,774.9 2249.0,773.6 C2249.7,772.3 2252.3,757.7 2253.0,757.7 C2253.7,757.7 2256.3,772.5 2256.9,773.6 C2257.5,774.7 2259.4,772.3 2260.0,771.1 C2260.6,769.9 2263.6,758.6 2264.3,758.8 C2265.0,759.0 2267.8,775.2 2268.6,773.6 C2269.4,772.0 2272.8,739.0 2273.6,739.0 C2274.4,739.0 2276.8,770.7 2278.5,773.6 C2280.2,776.5 2293.1,774.8 2294.6,773.6 C2296.1,772.4 2296.5,759.2 2297.0,758.8 C2297.5,758.4 2300.2,768.6 2300.7,768.6 C2301.2,768.6 2302.7,758.6 2303.2,758.8 C2303.7,759.0 2306.3,771.1 2306.9,771.1 C2307.5,771.1 2310.0,759.0 2310.6,758.8 C2311.2,758.6 2313.7,768.6 2314.3,768.6 C2314.9,768.6 2316.8,758.4 2317.4,758.8 C2318.0,759.2 2320.9,772.4 2321.7,773.6 C2322.5,774.8 2325.9,774.8 2326.7,773.6 C2327.5,772.4 2330.9,760.2 2331.6,758.8 C2332.3,757.4 2334.7,762.7 2335.3,756.3 C2335.9,749.9 2338.4,687.1 2339.0,682.2 C2339.6,677.3 2342.1,692.5 2342.7,697.0 C2343.3,701.5 2345.8,732.6 2346.4,736.5 C2347.0,740.4 2349.7,741.1 2350.1,744.0 C2350.5,746.9 2350.8,768.6 2351.4,771.1 C2352.0,773.6 2356.8,774.6 2357.5,773.6 C2358.2,772.6 2359.4,759.0 2360.0,758.8 C2360.6,758.6 2364.2,771.1 2364.9,771.1 C2365.6,771.1 2367.7,761.5 2368.6,758.8 C2369.5,756.1 2374.5,738.0 2375.4,739.0 C2376.3,740.0 2379.1,769.5 2379.8,771.1 C2380.5,772.8 2382.9,758.8 2383.5,758.8 C2384.1,758.8 2386.4,772.5 2387.2,771.1 C2388.0,769.7 2392.4,742.0 2393.3,741.5 C2394.2,741.0 2397.7,764.7 2398.3,764.9 C2398.9,765.1 2400.1,744.5 2400.7,744.0 C2401.3,743.5 2405.1,758.8 2405.7,758.8 C2406.3,758.8 2407.5,745.6 2408.1,744.0 C2408.7,742.4 2412.3,737.3 2413.1,739.0 C2413.9,740.7 2417.4,764.1 2418.0,764.9 C2418.6,765.7 2420.0,748.9 2420.5,748.9 C2421.0,748.9 2423.4,764.8 2424.2,764.9 C2425.0,765.0 2429.5,749.4 2430.4,750.1 C2431.3,750.8 2434.5,771.6 2435.3,773.6 C2436.1,775.6 2439.8,773.6 2440.2,773.6" fill="none" stroke="#1b1f4e" stroke-width="2.0" stroke-linejoin="round"/>
<rect x="1460.5" y="774.8" width="1011.8000000000002" height="3" fill="#808080"/>
<rect x="2440.5" y="734" width="1" height="50" fill="#e6e6ee"/>
<rect x="2074.9" y="282.3" width="48.9" height="30.4" fill="#0b5fd3"/>
<rect x="2074.9" y="412.8" width="48.9" height="9.8" fill="#000"/>
</svg>
<div class="t" style="left:24.95px;top:16.90px;font-size:42px;line-height:42px;font-weight:700;color:#184bb4;transform:scaleX(1.0766);-webkit-text-stroke:0.5px #fff">Chart</div>
<div class="t" style="left:119.45px;top:61.90px;font-size:42px;line-height:42px;font-weight:700;color:#184bb4;transform:scaleX(1.0476);-webkit-text-stroke:0.5px #fff">2</div>
<div class="t" style="left:215.75px;top:18.70px;font-size:42px;line-height:42px;font-weight:700;color:#000000;transform:scaleX(1.0509);-webkit-text-stroke:1.0px #fff">U.S. Price Level (GDP Deflator) Following</div>
<div class="t" style="left:215.78px;top:63.60px;font-size:42px;line-height:42px;font-weight:700;color:#000000;transform:scaleX(1.0392);-webkit-text-stroke:1.0px #fff">U.S. Presidential Pressure on the U.S.</div>
<div class="t" style="left:215.75px;top:107.70px;font-size:42px;line-height:42px;font-weight:700;color:#000000;transform:scaleX(1.0509);-webkit-text-stroke:1.0px #fff">Federal Reserve</div>
<div class="t" style="left:566.25px;top:107.70px;font-size:42px;line-height:42px;font-weight:400;color:#000000;transform:scaleX(0.9827);-webkit-text-stroke:0.6px #fff">1933-2016</div>
<div class="t" style="left:144.08px;top:138.60px;font-size:36px;line-height:36px;font-weight:400;color:#505050;transform:scaleX(0.9167);-webkit-text-stroke:0.6px #fff">%</div>
<div class="t" style="left:105.89px;top:165.50px;font-size:36px;line-height:36px;font-weight:400;color:#505050;transform:scaleX(1.0028);-webkit-text-stroke:0.6px #fff">10</div>
<div class="t" style="left:124.88px;top:250.20px;font-size:36px;line-height:36px;font-weight:400;color:#505050;transform:scaleX(1.0588);-webkit-text-stroke:0.6px #fff">5</div>
<div class="t" style="left:123.22px;top:334.90px;font-size:36px;line-height:36px;font-weight:400;color:#505050;transform:scaleX(1.1778);-webkit-text-stroke:0.6px #fff">0</div>
<div class="t" style="left:22.90px;top:351.58px;font-size:37px;line-height:37px;font-weight:400;color:#505050;transform:rotate(-90deg) scaleX(0.9918);-webkit-text-stroke:0.6px #fff">U.S. GDP</div>
<div class="t" style="left:62.00px;top:346.35px;font-size:37px;line-height:37px;font-weight:400;color:#505050;transform:rotate(-90deg) scaleX(1.1484);-webkit-text-stroke:0.6px #fff">Deflator</div>
<div class="t" style="left:181.53px;top:383.80px;font-size:36px;line-height:36px;font-weight:400;color:#505050;transform:scaleX(1.1667);-webkit-text-stroke:0.6px #fff">0</div>
<div class="t" style="left:397.36px;top:383.80px;font-size:36px;line-height:36px;font-weight:400;color:#505050;transform:scaleX(1.2688);-webkit-text-stroke:0.6px #fff">9</div>
<div class="t" style="left:606.66px;top:383.60px;font-size:36px;line-height:36px;font-weight:400;color:#505050;transform:scaleX(0.9806);-webkit-text-stroke:0.6px #fff">18</div>
<div class="t" style="left:822.43px;top:383.60px;font-size:36px;line-height:36px;font-weight:400;color:#505050;transform:scaleX(1.1333);-webkit-text-stroke:0.6px #fff">27</div>
<div class="t" style="left:1038.65px;top:383.60px;font-size:36px;line-height:36px;font-weight:400;color:#505050;transform:scaleX(1.1730);-webkit-text-stroke:0.6px #fff">36</div>
<div class="t" style="left:556.10px;top:436.70px;font-size:37px;line-height:37px;font-weight:400;color:#505050;transform:scaleX(1.1181);-webkit-text-stroke:0.6px #fff"># of Quarters</div>
<div class="t" style="left:20.81px;top:490.70px;font-size:37px;line-height:37px;font-weight:400;color:#505050;transform:scaleX(1.0937);-webkit-text-stroke:0.6px #fff">Source: National Bureau of Economic Research (NBER)</div>
<div class="t" style="left:25.15px;top:598.70px;font-size:42px;line-height:42px;font-weight:700;color:#184bb4;transform:scaleX(1.0757);-webkit-text-stroke:0.5px #fff">Chart</div>
<div class="t" style="left:119.97px;top:643.90px;font-size:42px;line-height:42px;font-weight:700;color:#184bb4;transform:scaleX(1.0318);-webkit-text-stroke:0.5px #fff">4</div>
<div class="t" style="left:215.92px;top:599.90px;font-size:42px;line-height:42px;font-weight:700;color:#000000;transform:scaleX(1.0602);-webkit-text-stroke:1.0px #fff">Presidential Political Pressure on the Fed</div>
<div class="t" style="left:215.92px;top:644.90px;font-size:42px;line-height:42px;font-weight:700;color:#000000;transform:scaleX(1.0586);-webkit-text-stroke:1.0px #fff">Historically Led to an Unanchoring of</div>
<div class="t" style="left:215.89px;top:688.60px;font-size:42px;line-height:42px;font-weight:700;color:#000000;transform:scaleX(1.0690);-webkit-text-stroke:1.0px #fff">Inflation Expectations</div>
<div class="t" style="left:691.04px;top:688.60px;font-size:42px;line-height:42px;font-weight:400;color:#000000;transform:scaleX(0.9862);-webkit-text-stroke:0.6px #fff">1933-1988</div>
<div class="t" style="left:164.01px;top:746.00px;font-size:36px;line-height:36px;font-weight:400;color:#505050;transform:scaleX(1.1941);-webkit-text-stroke:0.6px #fff">6</div>
<div class="t" style="left:165.64px;top:788.20px;font-size:36px;line-height:36px;font-weight:400;color:#505050;transform:scaleX(1.1087);-webkit-text-stroke:0.6px #fff">4</div>
<div class="t" style="left:166.74px;top:831.00px;font-size:36px;line-height:36px;font-weight:400;color:#505050;transform:scaleX(1.1087);-webkit-text-stroke:0.6px #fff">2</div>
<div class="t" style="left:165.64px;top:873.90px;font-size:36px;line-height:36px;font-weight:400;color:#505050;transform:scaleX(1.1087);-webkit-text-stroke:0.6px #fff">0</div>
<div class="t" style="left:152.20px;top:915.80px;font-size:36px;line-height:36px;font-weight:400;color:#505050;transform:scaleX(1.1500);-webkit-text-stroke:0.6px #fff">-2</div>
<div class="t" style="left:23.50px;top:969.19px;font-size:37px;line-height:37px;font-weight:400;color:#505050;transform:rotate(-90deg) scaleX(1.1649);-webkit-text-stroke:0.6px #fff">Incremental</div>
<div class="t" style="left:62.30px;top:933.52px;font-size:37px;line-height:37px;font-weight:400;color:#505050;transform:rotate(-90deg) scaleX(1.1750);-webkit-text-stroke:0.6px #fff">Inflation</div>
<div class="t" style="left:102.10px;top:975.08px;font-size:37px;line-height:37px;font-weight:400;color:#505050;transform:rotate(-90deg) scaleX(1.1275);-webkit-text-stroke:0.6px #fff">Expectations</div>
<div class="t" style="left:278.11px;top:964.60px;font-size:36px;line-height:36px;font-weight:400;color:#505050;transform:scaleX(1.1087);-webkit-text-stroke:0.6px #fff">0</div>
<div class="t" style="left:413.96px;top:964.60px;font-size:36px;line-height:36px;font-weight:400;color:#505050;transform:scaleX(1.1087);-webkit-text-stroke:0.6px #fff">1</div>
<div class="t" style="left:549.31px;top:964.60px;font-size:36px;line-height:36px;font-weight:400;color:#505050;transform:scaleX(1.1087);-webkit-text-stroke:0.6px #fff">2</div>
<div class="t" style="left:684.86px;top:964.60px;font-size:36px;line-height:36px;font-weight:400;color:#505050;transform:scaleX(1.1087);-webkit-text-stroke:0.6px #fff">3</div>
<div class="t" style="left:821.31px;top:964.60px;font-size:36px;line-height:36px;font-weight:400;color:#505050;transform:scaleX(1.1087);-webkit-text-stroke:0.6px #fff">4</div>
<div class="t" style="left:955.56px;top:964.60px;font-size:36px;line-height:36px;font-weight:400;color:#505050;transform:scaleX(1.1087);-webkit-text-stroke:0.6px #fff">5</div>
<div class="t" style="left:1092.66px;top:964.60px;font-size:36px;line-height:36px;font-weight:400;color:#505050;transform:scaleX(1.1087);-webkit-text-stroke:0.6px #fff">6</div>
<div class="t" style="left:646.43px;top:1007.60px;font-size:37px;line-height:37px;font-weight:400;color:#505050;transform:scaleX(1.0747);-webkit-text-stroke:0.6px #fff">Years</div>
<div class="t" style="left:20.81px;top:1070.60px;font-size:37px;line-height:37px;font-weight:400;color:#505050;transform:scaleX(1.0949);-webkit-text-stroke:0.6px #fff">Source: National Bureau of Economic Research (NBER)</div>
<div class="t" style="left:1330.45px;top:17.10px;font-size:42px;line-height:42px;font-weight:700;color:#184bb4;transform:scaleX(1.0748);-webkit-text-stroke:0.5px #fff">Chart</div>
<div class="t" style="left:1423.93px;top:61.60px;font-size:42px;line-height:42px;font-weight:700;color:#184bb4;transform:scaleX(1.0757);-webkit-text-stroke:0.5px #fff">3</div>
<div class="t" style="left:1521.26px;top:18.80px;font-size:42px;line-height:42px;font-weight:700;color:#000000;transform:scaleX(1.0453);-webkit-text-stroke:1.0px #fff">Historically, Political Pressure on the U.S.</div>
<div class="t" style="left:1521.22px;top:63.90px;font-size:42px;line-height:42px;font-weight:700;color:#000000;transform:scaleX(1.0601);-webkit-text-stroke:1.0px #fff">Fed Has Usually Led to Higher Inflation</div>
<div class="t" style="left:1518.05px;top:107.30px;font-size:42px;line-height:42px;font-weight:400;color:#000000;transform:scaleX(0.9837);-webkit-text-stroke:0.6px #fff">1933-2016</div>
<div class="t" style="left:1378.63px;top:185.70px;font-size:36px;line-height:36px;font-weight:400;color:#505050;transform:scaleX(1.1865);-webkit-text-stroke:0.6px #fff">30</div>
<div class="t" style="left:1381.66px;top:280.90px;font-size:36px;line-height:36px;font-weight:400;color:#505050;transform:scaleX(1.1087);-webkit-text-stroke:0.6px #fff">25</div>
<div class="t" style="left:1381.66px;top:375.90px;font-size:36px;line-height:36px;font-weight:400;color:#505050;transform:scaleX(1.1087);-webkit-text-stroke:0.6px #fff">20</div>
<div class="t" style="left:1381.66px;top:471.00px;font-size:36px;line-height:36px;font-weight:400;color:#505050;transform:scaleX(1.1087);-webkit-text-stroke:0.6px #fff">15</div>
<div class="t" style="left:1381.66px;top:566.10px;font-size:36px;line-height:36px;font-weight:400;color:#505050;transform:scaleX(1.1087);-webkit-text-stroke:0.6px #fff">10</div>
<div class="t" style="left:1403.84px;top:661.10px;font-size:36px;line-height:36px;font-weight:400;color:#505050;transform:scaleX(1.1087);-webkit-text-stroke:0.6px #fff">5</div>
<div class="t" style="left:1403.84px;top:756.20px;font-size:36px;line-height:36px;font-weight:400;color:#505050;transform:scaleX(1.1087);-webkit-text-stroke:0.6px #fff">0</div>
<div class="t" style="left:1390.03px;top:851.30px;font-size:36px;line-height:36px;font-weight:400;color:#505050;transform:scaleX(1.1345);-webkit-text-stroke:0.6px #fff">-5</div>
<div class="t" style="left:1436.13px;top:900.20px;font-size:36px;line-height:36px;font-weight:400;color:#505050;transform:scaleX(1.0341);-webkit-text-stroke:0.6px #fff">'35</div>
<div class="t" style="left:1552.35px;top:900.20px;font-size:36px;line-height:36px;font-weight:400;color:#505050;transform:scaleX(1.1273);-webkit-text-stroke:0.6px #fff">'45</div>
<div class="t" style="left:1673.21px;top:900.20px;font-size:36px;line-height:36px;font-weight:400;color:#505050;transform:scaleX(1.0455);-webkit-text-stroke:0.6px #fff">'55</div>
<div class="t" style="left:1791.32px;top:900.20px;font-size:36px;line-height:36px;font-weight:400;color:#505050;transform:scaleX(1.0886);-webkit-text-stroke:0.6px #fff">'65</div>
<div class="t" style="left:1910.46px;top:900.20px;font-size:36px;line-height:36px;font-weight:400;color:#505050;transform:scaleX(1.0705);-webkit-text-stroke:0.6px #fff">'75</div>
<div class="t" style="left:2028.59px;top:900.20px;font-size:36px;line-height:36px;font-weight:400;color:#505050;transform:scaleX(1.1068);-webkit-text-stroke:0.6px #fff">'85</div>
<div class="t" style="left:2148.01px;top:900.20px;font-size:36px;line-height:36px;font-weight:400;color:#505050;transform:scaleX(1.0955);-webkit-text-stroke:0.6px #fff">'95</div>
<div class="t" style="left:2266.16px;top:900.20px;font-size:36px;line-height:36px;font-weight:400;color:#505050;transform:scaleX(1.1205);-webkit-text-stroke:0.6px #fff">'05</div>
<div class="t" style="left:2390.53px;top:900.20px;font-size:36px;line-height:36px;font-weight:400;color:#505050;transform:scaleX(0.8864);-webkit-text-stroke:0.6px #fff">'15</div>
<div class="t" style="left:1327.72px;top:970.90px;font-size:37px;line-height:37px;font-weight:400;color:#505050;transform:scaleX(1.0924);-webkit-text-stroke:0.6px #fff">Source: National Bureau of Economic Research (NBER)</div>
<div class="t" style="left:2145.87px;top:243.30px;font-size:36px;line-height:36px;font-weight:700;color:#0b5ed7;transform:scaleX(1.1140);-webkit-text-stroke:0.7px #fff">Contribution of</div>
<div class="t" style="left:2145.94px;top:281.70px;font-size:36px;line-height:36px;font-weight:700;color:#0b5ed7;transform:scaleX(1.0813);-webkit-text-stroke:0.7px #fff">Political Pressure</div>
<div class="t" style="left:2148.10px;top:322.10px;font-size:36px;line-height:36px;font-weight:700;color:#0b5ed7;transform:scaleX(1.0524);-webkit-text-stroke:0.7px #fff">to Price Levels (%)</div>
<div class="t" style="left:2145.86px;top:382.20px;font-size:36px;line-height:36px;font-weight:700;color:#000000;transform:scaleX(1.1195);-webkit-text-stroke:0.7px #fff">President-Fed</div>
<div class="t" style="left:2145.86px;top:420.50px;font-size:36px;line-height:36px;font-weight:700;color:#000000;transform:scaleX(1.1217);-webkit-text-stroke:0.7px #fff">Interactions (#)</div>
</body></html>
